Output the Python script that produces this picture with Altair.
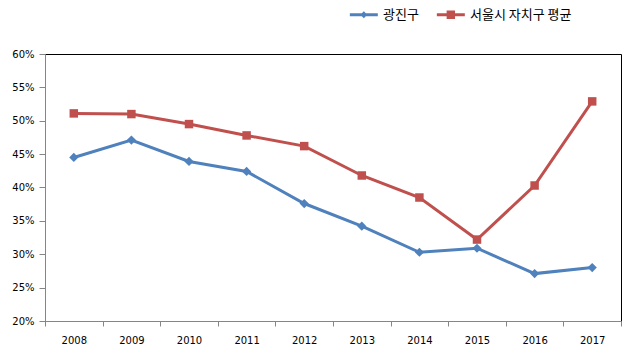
import altair as alt
import pandas as pd

years = ["2008", "2009", "2010", "2011", "2012", "2013", "2014", "2015", "2016", "2017"]
gwangjin = [44.5, 47.1, 43.9, 42.4, 37.6, 34.2, 30.3, 30.9, 27.1, 28.0]
seoul = [51.1, 51.0, 49.5, 47.8, 46.2, 41.8, 38.5, 32.2, 40.3, 52.9]
series_names = ["광진구", "서울시 자치구 평균"]
colors = ["#4F81BD", "#C0504D"]
y_ticks = [0.20, 0.25, 0.30, 0.35, 0.40, 0.45, 0.50, 0.55, 0.60]

rows = []
for name, vals in zip(series_names, [gwangjin, seoul]):
    for yr, v in zip(years, vals):
        rows.append({"year": yr, "value": v / 100.0, "series": name})
df = pd.DataFrame(rows)

AXIS_GRAY = "#868686"
FONT = "DejaVu Sans"

x_enc = alt.X(
    "year:N",
    sort=years,
    scale=alt.Scale(type="band", paddingInner=0, paddingOuter=0),
    axis=alt.Axis(
        title=None, labelAngle=0, tickBand="extent", domainColor=AXIS_GRAY,
        tickColor=AXIS_GRAY, tickSize=5, labelPadding=9, labelFont=FONT,
        labelFontSize=10, labelColor="black", grid=False,
    ),
)
y_enc = alt.Y(
    "value:Q",
    scale=alt.Scale(domain=[0.2, 0.6], nice=False, zero=False),
    axis=alt.Axis(
        title=None, values=y_ticks, format=".0%", domainColor=AXIS_GRAY,
        tickColor=AXIS_GRAY, tickSize=6, labelPadding=5, labelFont=FONT,
        labelFontSize=10, labelColor="black", grid=False,
    ),
)

base = alt.Chart(df)

blue_line = base.transform_filter(alt.datum.series == series_names[0]).mark_line(
    color=colors[0], strokeWidth=3,
    point=alt.OverlayMarkDef(shape="diamond", size=85, filled=True, color=colors[0], opacity=1),
).encode(x=x_enc, y=y_enc)

red_line = base.transform_filter(alt.datum.series == series_names[1]).mark_line(
    color=colors[1], strokeWidth=3,
    point=alt.OverlayMarkDef(shape="square", size=72, filled=True, color=colors[1], opacity=1),
).encode(x=x_enc, y=y_enc)

legend_diamond = "M-1,-0.32H5V0.32H-1Z M2,-0.75L2.75,0L2,0.75L1.25,0Z"
legend_square = "M-1,-0.32H5V0.32H-1Z M1.1,-0.9H2.9V0.9H1.1Z"

def make_legend():
    return alt.Legend(
        title=None, orient="none", direction="horizontal",
        legendX=303, legendY=-46, padding=0, columnPadding=16,
        labelFont="Noto Sans CJK KR", labelFontSize=13, labelColor="black",
        labelOffset=22, symbolOpacity=1, symbolStrokeWidth=0, symbolSize=87,
    )

legend_layer = base.mark_point(filled=True, opacity=0, size=87).encode(
    x=x_enc,
    y=y_enc,
    color=alt.Color(
        "series:N",
        scale=alt.Scale(domain=series_names, range=colors),
        legend=make_legend(),
    ),
    shape=alt.Shape(
        "series:N",
        scale=alt.Scale(domain=series_names, range=[legend_diamond, legend_square]),
        legend=make_legend(),
    ),
)

chart = alt.layer(legend_layer, blue_line, red_line).properties(
    width=576,
    height=267,
    autosize=alt.AutoSizeParams(type="none"),
    padding={"left": 45, "top": 54, "right": 10, "bottom": 32},
    background="white",
).configure_view(stroke="black", strokeWidth=1)

chart.save("out.html", embed_options={"renderer": "svg", "actions": False})
